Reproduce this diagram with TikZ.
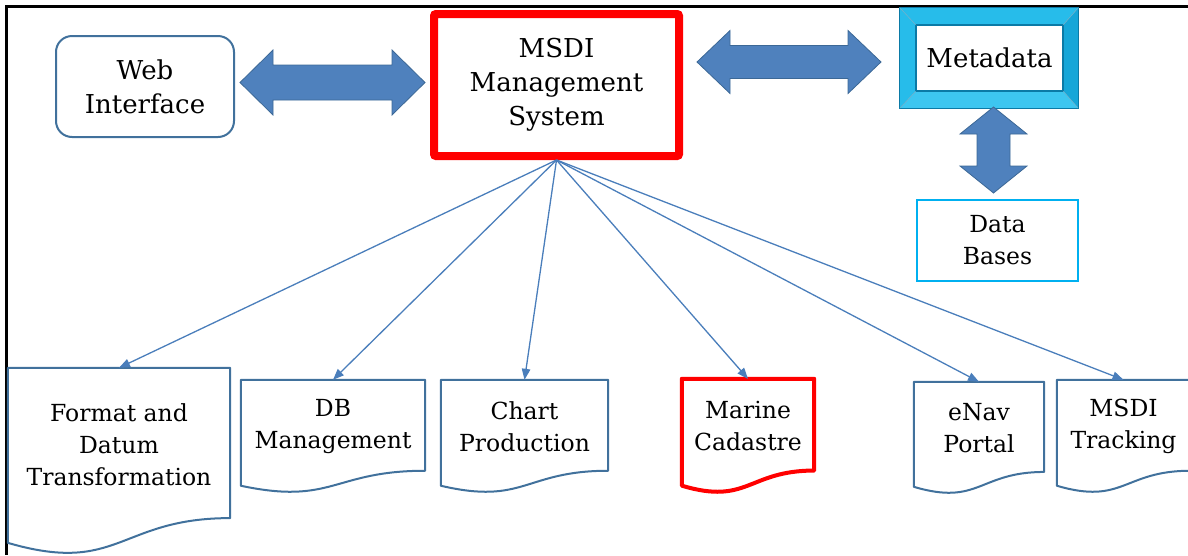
\documentclass[tikz,border=0pt]{standalone}
\usepackage{fontspec}
\setmainfont{DejaVu Serif}
\usepackage{tikz}
\usetikzlibrary{calc}
\usetikzlibrary{arrows.meta}
\usetikzlibrary{positioning}

\definecolor{arrowblue}{HTML}{4F81BD}
\definecolor{arrowedge}{HTML}{3C6896}
\definecolor{docedge}{HTML}{41719C}
\definecolor{linkblue}{HTML}{4A7EBB}
\definecolor{cyanlight}{HTML}{3DC6F0}
\definecolor{cyanmid}{HTML}{27BCEA}
\definecolor{cyandark}{HTML}{16A6D8}
\definecolor{cyanline}{HTML}{0B7AA6}
\definecolor{dbcyan}{HTML}{00B0F0}

% block arrow with a head at each end: [transform] length, half shaft, half head, head length
\newcommand{\twoway}[5][]{%
  \filldraw[bigarrow,#1] (0,0) -- (#5,-#4) -- (#5,-#3) -- (#2-#5,-#3) -- (#2-#5,-#4)
    -- (#2,0) -- (#2-#5,#4) -- (#2-#5,#3) -- (#5,#3) -- (#5,#4) -- cycle;}

% paper sheet with a wavy bottom round an empty node
\newcommand{\sheet}[2][]{%
  \draw[sheetline,#1] (#2.north west) -- (#2.north east)
    -- ($(#2.north east)!0.802!(#2.south east)$)
    .. controls ($(#2.north)!0.802!(#2.south)$) and ($(#2.north)!1.1075!(#2.south)$)
    .. ($(#2.north west)!0.934!(#2.south west)$) -- cycle;}

\begin{document}
\begin{tikzpicture}[x=1pt,y=-1pt,
  bigtext/.style={font=\fontsize{26}{34}\selectfont, align=center},
  smalltext/.style={font=\fontsize{23.5}{32}\selectfont, align=center},
  bigarrow/.style={fill=arrowblue, draw=arrowedge, line width=0.8pt},
  sheetline/.style={draw=docedge, line width=2pt, line join=round},
  sheet/.style={draw=none, inner sep=0pt},
  link/.style={draw=linkblue, line width=1.3pt, -{Triangle[length=11pt,width=8.5pt]}}]

  \useasboundingbox (0,0) rectangle (1188,555);

  % frame
  \draw[line width=3pt] (5,6) -- (1188,6);
  \draw[line width=3pt] (6,5) -- (6,555);

  % top row
  \node (web) [bigtext, draw=docedge, line width=2pt, rounded corners=16pt,
    minimum width=178pt, minimum height=101pt, inner sep=0pt] at (145,86.5) {Web\\Interface};
  \node (msdi) [bigtext, draw=red, line width=8pt, rounded corners=2pt,
    minimum width=245pt, minimum height=142pt, inner sep=0pt] at (556.5,85) {MSDI\\Management\\System};
  \node (md) [bigtext, fill=white, minimum width=147pt, minimum height=66pt,
    inner sep=0pt] at (989.5,58) {Metadata};
  \node (db) [smalltext, draw=dbcyan, line width=2pt, minimum width=161pt,
    minimum height=81pt, inner sep=0pt] at (997.5,240.5) {Data\\Bases};

  % bevelled frame of the metadata box
  \fill[cyanmid] ($(md.north west)+(-16,-17)$) -- ($(md.north east)+(15,-17)$)
    -- (md.north east) -- (md.north west) -- cycle;
  \fill[cyanmid] ($(md.north west)+(-16,-17)$) -- ($(md.south west)+(-16,17)$)
    -- (md.south west) -- (md.north west) -- cycle;
  \fill[cyandark] ($(md.north east)+(15,-17)$) -- ($(md.south east)+(15,17)$)
    -- (md.south east) -- (md.north east) -- cycle;
  \fill[cyanlight] ($(md.south west)+(-16,17)$) -- ($(md.south east)+(15,17)$)
    -- (md.south east) -- (md.south west) -- cycle;
  \draw[cyanline, line width=1pt] ($(md.north west)+(-16,-17)$) rectangle ($(md.south east)+(15,17)$);
  \draw[cyanline, line width=1.5pt] (md.north west) rectangle (md.south east);
  \draw[cyanline!60, line width=0.6pt] ($(md.north west)+(-16,-17)$) -- (md.north west)
    ($(md.north east)+(15,-17)$) -- (md.north east)
    ($(md.south west)+(-16,17)$) -- (md.south west)
    ($(md.south east)+(15,17)$) -- (md.south east);

  % block arrows
  \twoway[shift={(240,82.5)}]{185}{17.5}{32.5}{33}
  \twoway[shift={(697,62)}]{184}{16.5}{31.5}{33}
  \twoway[shift={(993.5,107)},rotate=-90]{86}{16.5}{33.5}{27}

  % bottom row of sheets
  \node (fdt) [sheet, minimum width=222pt, minimum height=187pt] at (119,461.5) {};
  \node (dbm) [sheet, minimum width=184pt, minimum height=113pt] at (333,436.5) {};
  \node (chp) [sheet, minimum width=167pt, minimum height=113pt] at (524.5,436.5) {};
  \node (mca) [sheet, minimum width=132pt, minimum height=114pt] at (748,436) {};
  \node (env) [sheet, minimum width=130pt, minimum height=112pt] at (979,438) {};
  \node (trk) [sheet, minimum width=133pt, minimum height=113pt] at (1123.5,436.5) {};

  \sheet{fdt}
  \sheet{dbm}
  \sheet{chp}
  \sheet[draw=red, line width=4pt]{mca}
  \sheet{env}
  \sheet{trk}

  \node (fdtT) [smalltext] at ($(fdt.north)!0.41!(fdt.south)$) {Format and\\Datum\\Transformation};
  \node (dbmT) [smalltext] at ($(dbm.north)!0.41!(dbm.south)$) {DB\\Management};
  \node (chpT) [smalltext] at ($(chp.north)!0.41!(chp.south)$) {Chart\\Production};
  \node (mcaT) [smalltext] at ($(mca.north)!0.41!(mca.south)$) {Marine\\Cadastre};
  \node (envT) [smalltext] at ($(env.north)!0.41!(env.south)$) {eNav\\Portal};
  \node (trkT) [smalltext] at ($(trk.north)!0.41!(trk.south)$) {MSDI\\Tracking};

  \foreach \d in {fdt,dbm,chp,mca,env,trk}
    \draw[link] (msdi.south) -- (\d.north);
\end{tikzpicture}
\end{document}
